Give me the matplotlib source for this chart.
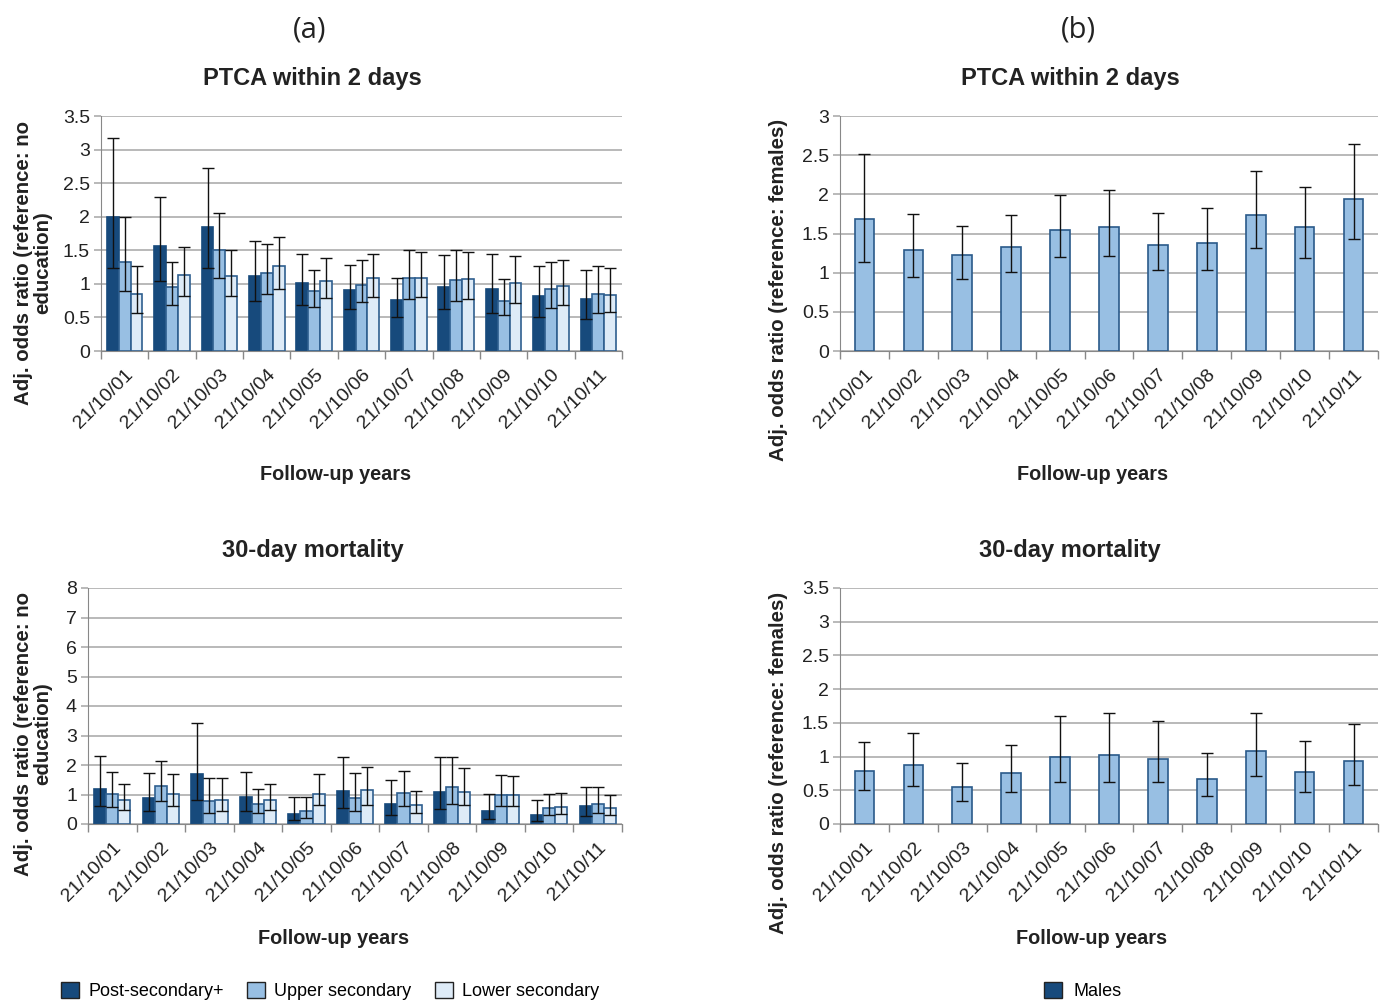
import numpy as np
import matplotlib
matplotlib.use("Agg")
import matplotlib.pyplot as plt
from matplotlib.patches import Patch

plt.rcParams['font.family'] = ['Liberation Sans', 'DejaVu Sans']

years = ["21/10/01", "21/10/02", "21/10/03", "21/10/04", "21/10/05", "21/10/06",
         "21/10/07", "21/10/08", "21/10/09", "21/10/10", "21/10/11"]
edu_levels = ["Post-secondary+", "Upper secondary", "Lower secondary"]

# (a) PTCA within 2 days, by education
ptca_post = [2.00, 1.57, 1.85, 1.12, 1.01, 0.91, 0.76, 0.96, 0.93, 0.82, 0.77]
ptca_post_lo = [1.24, 1.05, 1.24, 0.74, 0.68, 0.62, 0.50, 0.63, 0.57, 0.51, 0.47]
ptca_post_hi = [3.17, 2.29, 2.72, 1.64, 1.44, 1.28, 1.09, 1.43, 1.45, 1.26, 1.20]
ptca_upper = [1.33, 0.95, 1.50, 1.16, 0.89, 0.99, 1.08, 1.06, 0.75, 0.92, 0.85]
ptca_upper_lo = [0.89, 0.68, 1.09, 0.85, 0.66, 0.73, 0.78, 0.75, 0.53, 0.64, 0.57]
ptca_upper_hi = [1.99, 1.33, 2.06, 1.60, 1.21, 1.36, 1.50, 1.50, 1.07, 1.33, 1.27]
ptca_lower = [0.85, 1.13, 1.12, 1.26, 1.05, 1.08, 1.08, 1.07, 1.01, 0.97, 0.84]
ptca_lower_lo = [0.57, 0.82, 0.82, 0.93, 0.79, 0.80, 0.80, 0.78, 0.71, 0.69, 0.58]
ptca_lower_hi = [1.27, 1.55, 1.51, 1.70, 1.39, 1.45, 1.47, 1.48, 1.42, 1.36, 1.23]

# (a) 30-day mortality, by education
mort_post = [1.18, 0.88, 1.70, 0.90, 0.35, 1.11, 0.69, 1.09, 0.43, 0.31, 0.60]
mort_post_lo = [0.60, 0.44, 0.83, 0.45, 0.14, 0.53, 0.32, 0.51, 0.16, 0.11, 0.27]
mort_post_hi = [2.31, 1.73, 3.43, 1.77, 0.91, 2.26, 1.48, 2.26, 1.02, 0.81, 1.27]
mort_upper = [1.03, 1.28, 0.77, 0.67, 0.45, 0.89, 1.05, 1.24, 0.98, 0.53, 0.69]
mort_upper_lo = [0.58, 0.78, 0.38, 0.37, 0.22, 0.45, 0.61, 0.68, 0.60, 0.30, 0.37]
mort_upper_hi = [1.75, 2.13, 1.56, 1.18, 0.91, 1.73, 1.80, 2.26, 1.65, 1.01, 1.27]
mort_lower = [0.81, 1.03, 0.83, 0.82, 1.03, 1.14, 0.65, 1.10, 0.98, 0.59, 0.54]
mort_lower_lo = [0.47, 0.61, 0.44, 0.48, 0.63, 0.66, 0.37, 0.64, 0.60, 0.34, 0.30]
mort_lower_hi = [1.36, 1.70, 1.56, 1.37, 1.68, 1.93, 1.13, 1.90, 1.62, 1.04, 0.98]

# (b) males vs females
ptca_male = [1.69, 1.29, 1.22, 1.33, 1.54, 1.58, 1.35, 1.38, 1.74, 1.58, 1.94]
ptca_male_lo = [1.13, 0.94, 0.92, 1.01, 1.20, 1.21, 1.03, 1.04, 1.31, 1.19, 1.43]
ptca_male_hi = [2.52, 1.75, 1.60, 1.74, 1.99, 2.06, 1.76, 1.83, 2.30, 2.10, 2.64]
mort_male = [0.79, 0.88, 0.55, 0.76, 1.00, 1.02, 0.97, 0.67, 1.08, 0.77, 0.93]
mort_male_lo = [0.50, 0.56, 0.34, 0.48, 0.63, 0.63, 0.62, 0.42, 0.71, 0.48, 0.58]
mort_male_hi = [1.22, 1.35, 0.91, 1.17, 1.60, 1.65, 1.53, 1.05, 1.65, 1.23, 1.49]

W, H = 1385, 1002
fig = plt.figure(figsize=(W / 100, H / 100), dpi=100)

def px_axes(l, t, r, b):
    return fig.add_axes([l / W, 1 - b / H, (r - l) / W, (b - t) / H])

def ftext(x, y, s, **kw):
    return fig.text(x / W, 1 - y / H, s, **kw)

DARK = "#174a7c"
MID = "#98bfe3"
LIGHT = "#deebf7"
EDGE = "#2f5f8f"
GRID = "#a6a6a6"
TXT = "#222222"

def style(ax, ymax, ystep):
    n = len(years)
    ax.set_xlim(-0.5, n - 0.5)
    ax.set_ylim(0, ymax)
    ticks = np.arange(0, ymax + 1e-9, ystep)
    ax.set_yticks(ticks)
    ax.set_yticklabels([("%g" % t) for t in ticks], fontsize=14, color=TXT)
    ax.yaxis.grid(True, color=GRID, lw=1.1)
    ax.set_axisbelow(True)
    ax.set_xticks(range(n))
    ax.set_xticklabels(years, rotation=45, ha="right", rotation_mode="anchor",
                       fontsize=14, color=TXT)
    ax.tick_params(axis="x", which="major", length=0, pad=11)
    ax.set_xticks(np.arange(-0.5, n, 1.0), minor=True)
    ax.tick_params(axis="x", which="minor", length=6, color="#888888", width=1)
    ax.tick_params(axis="y", length=5, color=GRID, width=1.1, pad=3)
    for s in ["top", "right"]:
        ax.spines[s].set_visible(False)
    ax.spines["left"].set_color("#888888")
    ax.spines["bottom"].set_color("#888888")

def grouped(ax, series):
    x = np.arange(len(years))
    w = 0.25
    cols = [DARK, MID, LIGHT]
    edges = [DARK, EDGE, EDGE]
    for i, (v, lo, hi) in enumerate(series):
        v = np.array(v); lo = np.array(lo); hi = np.array(hi)
        xi = x + (i - 1) * w
        ax.bar(xi, v, width=w, color=cols[i], edgecolor=edges[i], lw=1.2, zorder=2)
        ax.errorbar(xi, v, yerr=[v - lo, hi - v], fmt="none", ecolor="#111111",
                    elinewidth=1.0, capsize=4, capthick=1.0, zorder=3)

def single(ax, v, lo, hi):
    x = np.arange(len(years))
    v = np.array(v); lo = np.array(lo); hi = np.array(hi)
    ax.bar(x, v, width=0.4, color=MID, edgecolor="#2a5a8a", lw=1.2, zorder=2)
    ax.errorbar(x, v, yerr=[v - lo, hi - v], fmt="none", ecolor="#111111",
                elinewidth=1.0, capsize=4, capthick=1.0, zorder=3)

ylab_a = "Adj. odds ratio (reference: no\neducation)"
ylab_b = "Adj. odds ratio (reference: females)"
lab_kw = dict(fontsize=14.7, fontweight="bold", rotation=90, ha="center",
              va="center", color=TXT, linespacing=1.0)
title_kw = dict(fontsize=17, fontweight="bold", ha="center", va="center", color=TXT)
xl_kw = dict(fontsize=14.3, fontweight="bold", ha="center", va="center", color=TXT)

ax1 = px_axes(101, 116, 622, 351)
grouped(ax1, [(ptca_post, ptca_post_lo, ptca_post_hi),
              (ptca_upper, ptca_upper_lo, ptca_upper_hi),
              (ptca_lower, ptca_lower_lo, ptca_lower_hi)])
style(ax1, 3.5, 0.5)

ax2 = px_axes(88, 588, 622, 824)
grouped(ax2, [(mort_post, mort_post_lo, mort_post_hi),
              (mort_upper, mort_upper_lo, mort_upper_hi),
              (mort_lower, mort_lower_lo, mort_lower_hi)])
style(ax2, 8, 1)

ax3 = px_axes(840, 116, 1378, 351)
single(ax3, ptca_male, ptca_male_lo, ptca_male_hi)
style(ax3, 3, 0.5)

ax4 = px_axes(840, 588, 1378, 824)
single(ax4, mort_male, mort_male_lo, mort_male_hi)
style(ax4, 3.5, 0.5)

ftext(312, 78, "PTCA within 2 days", **title_kw)
ftext(1070, 78, "PTCA within 2 days", **title_kw)
ftext(313, 550, "30-day mortality", **title_kw)
ftext(1070, 550, "30-day mortality", **title_kw)

ftext(336, 474, "Follow-up years", **xl_kw)
ftext(1093, 474, "Follow-up years", **xl_kw)
ftext(334, 939, "Follow-up years", **xl_kw)
ftext(1092, 939, "Follow-up years", **xl_kw)

ftext(33, 263, ylab_a, **lab_kw)
ftext(33, 734, ylab_a, **lab_kw)
ftext(779, 290, ylab_b, **lab_kw)
ftext(779, 763, ylab_b, **lab_kw)

ftext(310, 30, "(a)", fontsize=21, ha="center", va="center",
      family=["Open Sans", "DejaVu Sans"], color=TXT)
ftext(1078, 30, "(b)", fontsize=21, ha="center", va="center",
      family=["Open Sans", "DejaVu Sans"], color=TXT)

handles_a = [Patch(facecolor=DARK, edgecolor="#222222", label=edu_levels[0]),
             Patch(facecolor=MID, edgecolor="#222222", label=edu_levels[1]),
             Patch(facecolor=LIGHT, edgecolor="#222222", label=edu_levels[2])]
fig.legend(handles=handles_a, loc="center left", bbox_to_anchor=(52 / W, 1 - 991 / H),
           ncol=3, frameon=False, fontsize=13, handlelength=1.0, handleheight=1.0,
           handletextpad=0.5, columnspacing=1.3, borderpad=0)
fig.legend(handles=[Patch(facecolor=DARK, edgecolor="#222222", label="Males")],
           loc="center left", bbox_to_anchor=(1035 / W, 1 - 991 / H),
           frameon=False, fontsize=13, handlelength=1.0, handleheight=1.0,
           handletextpad=0.65, borderpad=0)

fig.savefig("out.png", dpi=100)
